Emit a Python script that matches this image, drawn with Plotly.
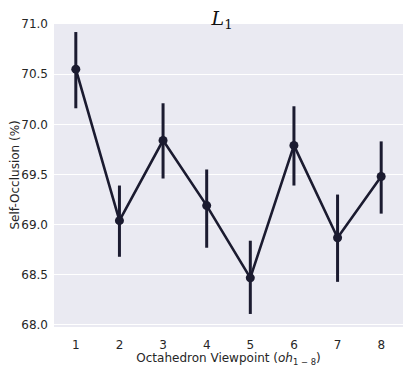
import plotly.graph_objects as go

viewpoints = [1, 2, 3, 4, 5, 6, 7, 8]
mean_occlusion = [70.55, 69.04, 69.84, 69.19, 68.47, 69.79, 68.87, 69.48]
err_upper = [70.92, 69.39, 70.21, 69.55, 68.84, 70.18, 69.30, 69.83]
err_lower = [70.16, 68.68, 69.46, 68.77, 68.11, 69.39, 68.43, 69.11]
y_ticks = [68.0, 68.5, 69.0, 69.5, 70.0, 70.5, 71.0]

color = "#1b1b30"
plus = [u - m for u, m in zip(err_upper, mean_occlusion)]
minus = [m - l for m, l in zip(mean_occlusion, err_lower)]

fig = go.Figure()
fig.add_trace(go.Scatter(
    x=viewpoints, y=mean_occlusion, mode="lines+markers",
    line=dict(color=color, width=2.6),
    marker=dict(color=color, size=9),
    error_y=dict(type="data", symmetric=False, array=plus, arrayminus=minus,
                 color=color, thickness=3, width=0),
    showlegend=False,
))

# page body adds an 8px offset; compensate in size and margins
fig.update_layout(
    width=407, height=359,
    margin=dict(l=46, r=12, t=16, b=40),
    paper_bgcolor="white", plot_bgcolor="#EAEAF2",
    font=dict(family="DejaVu Sans", size=12, color="#262626"),
    title=dict(text="<i>L</i><sub>1</sub>", x=0.526, xanchor="center", y=0.99, yanchor="top",
               font=dict(family="DejaVu Serif", size=19, color="#111111")),
    annotations=[dict(text="Self-Occlusion (%)", textangle=-90, xref="paper", yref="paper",
                      x=0, y=0.5, xanchor="center", yanchor="middle", xshift=-40,
                      showarrow=False, font=dict(size=12, color="#262626"))],
)
fig.update_xaxes(range=[0.5, 8.5], tickmode="array", tickvals=viewpoints,
                 ticktext=[str(v) for v in viewpoints], showgrid=False, zeroline=False,
                 ticks="", ticklabelstandoff=9, automargin=False,
                 title=dict(text="Octahedron Viewpoint (<i>oh</i><sub>1 − 8</sub>)",
                            font=dict(size=12), standoff=3))
fig.update_yaxes(range=[67.98, 71.0], tickmode="array", tickvals=y_ticks,
                 ticktext=[f"{v:.1f}" for v in y_ticks], showgrid=True, gridcolor="white",
                 gridwidth=1, zeroline=False, ticks="", ticklabelstandoff=5, automargin=False)

fig.write_html("out.html")
